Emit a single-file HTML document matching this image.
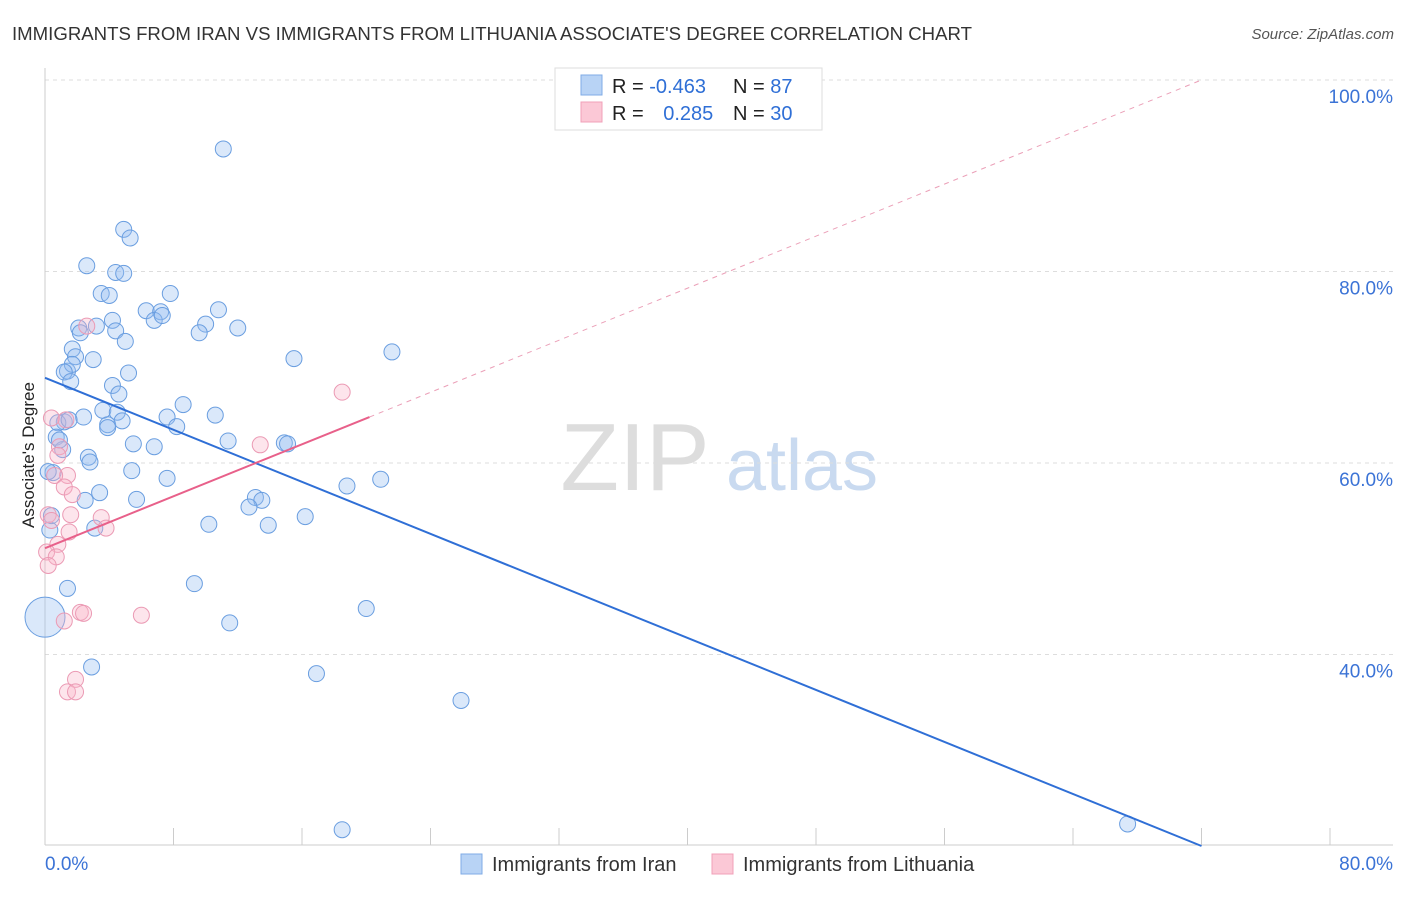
<!DOCTYPE html>
<html><head><meta charset="utf-8"><style>
body{margin:0;background:#fff;font-family:"Liberation Sans",sans-serif;}
svg text{font-family:"Liberation Sans",sans-serif;}
</style></head><body>
<svg id="chart" width="1406" height="892" xmlns="http://www.w3.org/2000/svg">
<text x="12" y="40" font-size="18" fill="#333" textLength="960" lengthAdjust="spacingAndGlyphs">IMMIGRANTS FROM IRAN VS IMMIGRANTS FROM LITHUANIA ASSOCIATE'S DEGREE CORRELATION CHART</text>
<text x="1394" y="39" font-size="15" fill="#555" text-anchor="end" font-style="italic">Source: ZipAtlas.com</text>
<g>
<text x="635" y="490" font-size="96" fill="#ddd" font-family="Liberation Serif" text-anchor="middle">ZIP</text>
<text x="802" y="490" font-size="72" fill="#c9daf0" text-anchor="middle">atlas</text>
</g>
<g id="grid"></g>
<g id="axes"></g>
<g id="marks"></g>
<text transform="translate(34,455) rotate(-90)" font-size="17" fill="#222" text-anchor="middle">Associate's Degree</text>
<g>
<rect x="555" y="68" width="267" height="62" fill="#fff" stroke="#ddd"/>
<rect x="581" y="75" width="21" height="20" fill="#b8d3f5" stroke="#7fabe6"/>
<rect x="581" y="102" width="21" height="20" fill="#fbc8d6" stroke="#f0a0b8"/>
<text x="612" y="93" font-size="20" fill="#222">R = <tspan fill="#2f6fd6">-0.463</tspan></text>
<text x="733" y="93" font-size="20" fill="#222">N = <tspan fill="#2f6fd6"> 87</tspan></text>
<text x="612" y="120" font-size="20" fill="#222">R = <tspan fill="#2f6fd6" dx="14">0.285</tspan></text>
<text x="733" y="120" font-size="20" fill="#222">N = <tspan fill="#2f6fd6">30</tspan></text>
</g>
<g>
<rect x="461" y="854" width="21" height="20" fill="#b8d3f5" stroke="#7fabe6"/>
<text x="492" y="871" font-size="20" fill="#333">Immigrants from Iran</text>
<rect x="712" y="854" width="21" height="20" fill="#fbc8d6" stroke="#f0a0b8"/>
<text x="743" y="871" font-size="20" fill="#333">Immigrants from Lithuania</text>
</g>
</svg>
<script>
const yTicks=[40,60,80,100];
const yTickLabels=["40.0%","60.0%","80.0%","100.0%"];
const xTickLabels=["0.0%","80.0%"];
const iranX=[11.1,4.9,5.3,2.6,4.4,4.9,3.5,4.0,7.8,6.3,7.2,10.8,6.8,7.3,4.2,3.2,2.1,2.2,4.4,10.0,12.0,9.6,5.0,1.7,3.0,1.9,15.5,21.6,1.4,1.7,1.2,5.2,1.6,4.2,4.6,8.6,3.6,4.5,7.6,2.4,10.6,1.2,0.8,1.5,3.9,8.2,4.8,0.7,5.5,6.8,11.4,14.9,15.1,1.1,2.7,2.8,5.4,7.6,0.5,20.9,18.8,3.4,2.5,5.7,13.1,13.5,12.7,16.2,10.2,13.9,3.1,0.3,0.4,1.4,9.3,20.0,11.5,2.9,16.9,25.9,18.5,67.4,0.9,0.2,3.9,0];
const iranY=[92.8,84.4,83.5,80.6,79.9,79.8,77.7,77.5,77.7,75.9,75.8,76.0,74.9,75.4,74.9,74.3,74.1,73.6,73.8,74.5,74.1,73.6,72.7,71.9,70.8,71.1,70.9,71.6,69.6,70.3,69.5,69.4,68.5,68.1,67.2,66.1,65.5,65.3,64.8,64.8,65.0,64.3,64.2,64.5,64.0,63.8,64.4,62.7,62.0,61.7,62.3,62.1,62.0,61.4,60.6,60.1,59.2,58.4,59.0,58.3,57.6,56.9,56.1,56.2,56.4,56.1,55.4,54.4,53.6,53.5,53.2,53.0,54.5,46.9,47.4,44.8,43.3,38.7,38.0,35.2,21.7,22.3,62.4,59.1,63.7,43.9];
const iranBig=[0,0,0,0,0,0,0,0,0,0,0,0,0,0,0,0,0,0,0,0,0,0,0,0,0,0,0,0,0,0,0,0,0,0,0,0,0,0,0,0,0,0,0,0,0,0,0,0,0,0,0,0,0,0,0,0,0,0,0,0,0,0,0,0,0,0,0,0,0,0,0,0,0,0,0,0,0,0,0,0,0,0,0,0,0,1];
const lithX=[0.4,1.3,2.6,0.9,1.4,0.6,1.2,1.7,0.2,0.4,1.6,3.5,3.8,1.5,0.8,0.1,0.7,0.2,2.2,2.4,6.0,1.2,1.9,1.4,1.9,18.5,13.4,0.8];
const lithY=[64.7,64.5,74.3,61.7,58.7,58.7,57.5,56.7,54.6,54.0,54.6,54.3,53.2,52.8,51.5,50.7,50.2,49.3,44.4,44.3,44.1,43.5,37.4,36.1,36.1,67.4,61.9,60.8];
const iranTrend=[[0,68.9],[72,20.0]];
const lithTrend=[[0,51.1],[20.2,64.8]];
const lithTrendExt=[[20.2,64.8],[72,100]];

const NS="http://www.w3.org/2000/svg";
const X0=45,X1=1330,YTOP=80,PXPER=9.575;
const sx=v=>X0+(v/80)*(X1-X0);
const sy=v=>YTOP+(100-v)*PXPER;
function mk(tag,attrs,parent){const e=document.createElementNS(NS,tag);for(const k in attrs)e.setAttribute(k,attrs[k]);parent.appendChild(e);return e;}
const grid=document.getElementById('grid'),axes=document.getElementById('axes'),marks=document.getElementById('marks');
yTicks.forEach((t,i)=>{
 const l=mk('line',{x1:45,x2:1393,y1:sy(t),y2:sy(t),stroke:'#ddd','stroke-dasharray':'4,4'},grid);
 
 
 const tx=mk('text',{x:1393,y:sy(t)+23,'font-size':19,fill:'#3b73d6','text-anchor':'end'},axes);
 tx.textContent=yTickLabels[i];
 
 
});
const ax=mk('line',{x1:45,x2:1393,y1:845,y2:845,stroke:'#ccc'},axes);


const ay=mk('line',{x1:45,x2:45,y1:68,y2:845,stroke:'#ccc'},axes);


for(let i=1;i<=10;i++){
 const tk=mk('line',{x1:sx(i*8),x2:sx(i*8),y1:828,y2:845,stroke:'#ccc'},axes);
 
 
}
const xl0=mk('text',{x:45,y:870,'font-size':19,fill:'#3b73d6'},axes);xl0.textContent=xTickLabels[0];


const xl1=mk('text',{x:1393,y:870,'font-size':19,fill:'#3b73d6','text-anchor':'end'},axes);xl1.textContent=xTickLabels[1];


iranX.forEach((v,i)=>{
 const c=mk('circle',{cx:sx(v),cy:sy(iranY[i]),r:iranBig[i]?20:8,fill:'rgba(150,190,240,0.35)',stroke:'#6a9ee0','stroke-width':1},marks);
 
 
});
lithX.forEach((v,i)=>{
 const c=mk('circle',{cx:sx(v),cy:sy(lithY[i]),r:8,fill:'rgba(248,180,200,0.35)',stroke:'#eb9ab4','stroke-width':1},marks);
 
 
});
const t1=mk('line',{x1:sx(iranTrend[0][0]),y1:sy(iranTrend[0][1]),x2:sx(iranTrend[1][0]),y2:sy(iranTrend[1][1]),stroke:'#2f6fd6','stroke-width':2},marks);


const t2=mk('line',{x1:sx(lithTrend[0][0]),y1:sy(lithTrend[0][1]),x2:sx(lithTrend[1][0]),y2:sy(lithTrend[1][1]),stroke:'#e8608a','stroke-width':2},marks);


const t3=mk('line',{x1:sx(lithTrendExt[0][0]),y1:sy(lithTrendExt[0][1]),x2:sx(lithTrendExt[1][0]),y2:sy(lithTrendExt[1][1]),stroke:'#eba0b8','stroke-width':1,'stroke-dasharray':'5,5'},marks);


</script>
</body></html>
